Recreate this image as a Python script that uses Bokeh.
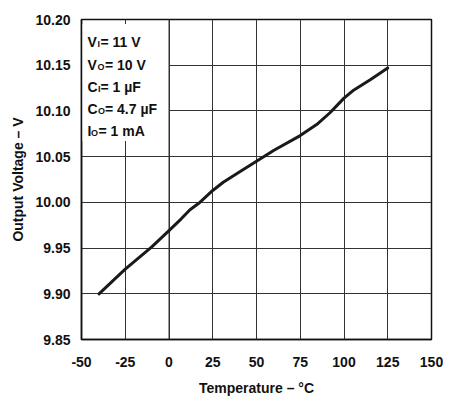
from bokeh.plotting import figure
from bokeh.models import Range1d, FixedTicker, NumeralTickFormatter, BoxAnnotation, Span, Label
from bokeh.embed import file_html
from bokeh.resources import INLINE

# ---- data ----
temperature = [-40, -25, -10, 0, 7, 12, 17, 25, 31, 40, 50, 60, 75, 85, 92, 97, 100, 105, 115, 125]
voltage = [9.900, 9.927, 9.951, 9.969, 9.982, 9.992, 9.999, 10.013, 10.022, 10.033, 10.045,
           10.057, 10.073, 10.086, 10.098, 10.108, 10.114, 10.122, 10.134, 10.147]
x_ticks = [-50, -25, 0, 25, 50, 75, 100, 125, 150]
x_tick_labels = ["-50", "-25", "0", "25", "50", "75", "100", "125", "150"]
y_ticks = [9.85, 9.90, 9.95, 10.00, 10.05, 10.10, 10.15, 10.20]
x_title = "Temperature \u2013 \u00b0C"
y_title = "Output Voltage \u2013 V"
cond_main = ["V", "V", "C", "C", "I"]
cond_sub = ["I", "O", "I", "O", "O"]
cond_rest = ["= 11 V", "= 10 V", "= 1 \u00b5F", "= 4.7 \u00b5F", "= 1 mA"]

FONT = "Liberation Sans"

p = figure(frame_width=350, frame_height=320,
           min_border_left=81, min_border_right=12, min_border_top=19, min_border_bottom=63,
           x_range=Range1d(x_ticks[0], x_ticks[-1]), y_range=Range1d(y_ticks[0], y_ticks[-1]),
           output_backend="svg", toolbar_location=None)

p.background_fill_color = "white"
p.border_fill_color = "white"
p.outline_line_color = "#111111"
p.outline_line_width = 1.5

p.xaxis.ticker = FixedTicker(ticks=x_ticks)
p.yaxis.ticker = FixedTicker(ticks=y_ticks)
p.yaxis.formatter = NumeralTickFormatter(format="0.00")
p.xaxis.major_label_overrides = {t: s for t, s in zip(x_ticks, x_tick_labels)}

for ax in (p.xaxis[0], p.yaxis[0]):
    ax.major_tick_line_color = None
    ax.minor_tick_line_color = None
    ax.major_tick_out = 0
    ax.major_tick_in = 0
    ax.minor_tick_out = 0
    ax.axis_line_color = "#111111"
    ax.axis_line_width = 1.5
    ax.major_label_text_font = FONT
    ax.major_label_text_font_style = "bold"
    ax.major_label_text_font_size = "14px"
    ax.major_label_text_color = "#111111"
    ax.axis_label_text_font = FONT
    ax.axis_label_text_font_style = "bold"
    ax.axis_label_text_font_size = "14px"
    ax.axis_label_text_color = "#111111"

p.xaxis.axis_label = x_title
p.yaxis.axis_label = y_title
p.xaxis.major_label_standoff = 17
p.yaxis.major_label_standoff = 11
p.xaxis.axis_label_standoff = 10
p.yaxis.axis_label_standoff = 6

p.grid.grid_line_color = "#333333"
p.grid.grid_line_width = 1
p.xgrid.ticker = FixedTicker(ticks=x_ticks)
p.ygrid.ticker = FixedTicker(ticks=y_ticks)

# white box behind the conditions text
box = BoxAnnotation(left=x_ticks[0], right=0, bottom=10.067, top=10.195,
                    fill_color="white", fill_alpha=1, line_color=None, level="underlay")
p.add_layout(box)
span = Span(location=0, dimension="height", line_color="#333333", line_width=1, level="underlay")
p.add_layout(span)

p.line(temperature, voltage, line_color="#1a1a1a", line_width=3, line_join="round", line_cap="round")

# conditions text
baselines = [22, 45.5, 67.5, 89, 111]
main_x = 6
sub_x = [16, 16, 16.5, 16.5, 9.5]
rest_x = [19, 23.5, 19, 23.5, 17]
sub_size = ["9px", "9px", "9px", "9px", "9px"]
for i in range(len(cond_main)):
    common = dict(x=x_ticks[0], y=y_ticks[-1], text_font=FONT, text_font_style="bold",
                  text_color="#111111", text_baseline="alphabetic", text_align="left")
    p.add_layout(Label(text=cond_main[i], x_offset=main_x, y_offset=-baselines[i],
                       text_font_size="14px", **common))
    p.add_layout(Label(text=cond_sub[i], x_offset=sub_x[i], y_offset=-(baselines[i] + 2),
                       text_font_size=sub_size[i], **common))
    p.add_layout(Label(text=cond_rest[i], x_offset=rest_x[i], y_offset=-baselines[i],
                       text_font_size="14px", **common))

open("out.html", "w").write(file_html(p, INLINE))
